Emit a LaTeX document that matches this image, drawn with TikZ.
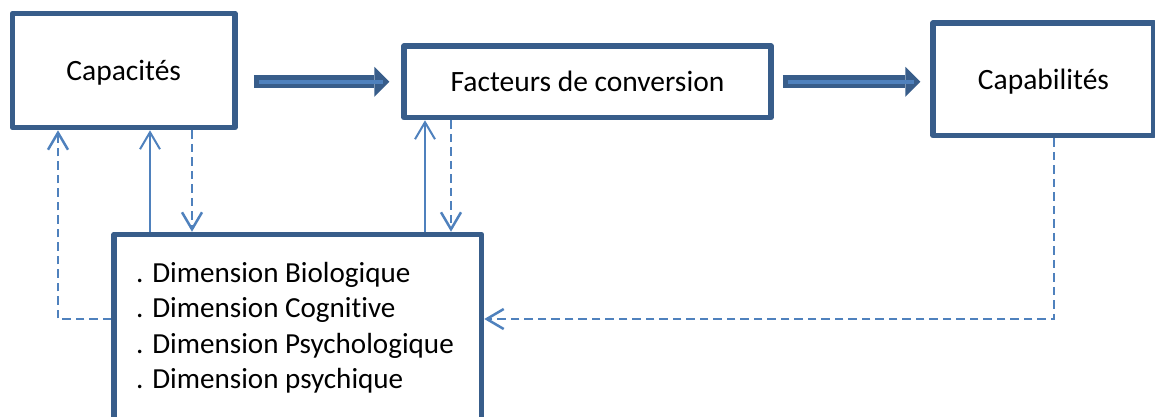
\documentclass[tikz,border=0pt]{standalone}
\usepackage{fontspec}
\setmainfont{Carlito}[Ligatures=NoCommon]
\usetikzlibrary{arrows.meta}

\definecolor{boxblue}{HTML}{385D8A}
\definecolor{lineblue}{HTML}{4F81BD}

\tikzset{
    box/.style={draw=boxblue, line width=5.5pt, line join=round, inner sep=0pt,
        text height=20pt, text depth=0pt, font=\fontsize{29.5}{35}\selectfont},
    dimline/.style={anchor=base west, inner sep=0pt, font=\fontsize{29.1}{35}\selectfont},
    bigarrow/.style={draw=boxblue, line width=13pt,
        -{Triangle[length=15pt,width=30pt,line width=0pt]}},
    bigcore/.style={draw=lineblue, line width=4pt},
    solidlink/.style={draw=lineblue, line width=2pt, -{Straight Barb[length=17pt,width=20pt]}},
    dashlink/.style={solidlink, line width=2.5pt, dash pattern=on 8.5pt off 5pt}
}

\begin{document}
\begin{tikzpicture}[x=1pt, y=-1pt]
    \clip (0,0) rectangle (1155,416);

    % the three boxes of the top row
    \node[box, minimum width=222.5pt, minimum height=114pt] (cap) at (123.75, 70.5) {Capacités};
    \node[box, minimum width=367pt, minimum height=71.5pt] (fac) at (587.5, 81.75) {Facteurs de conversion};
    \node[box, minimum width=221pt, minimum height=112.5pt] (capab) at (1043.5, 79.25) {Capabilités};

    % the box of dimensions (cut by the lower edge)
    \node[box, minimum width=367.5pt, minimum height=200pt] (dim) at (297.75, 334.5) {};
    \foreach \txt [count=\i] in {Biologique, Cognitive, Psychologique, psychique}
        \node[dimline] (dim\i) at (136, {246.5+35.5*\i}) {. Dimension \txt};

    % big arrows, dark with a light core
    \draw[bigarrow, shorten <=16pt, shorten >=12pt] (cap.east |- fac.west) -- (fac.west);
    \draw[bigcore, shorten <=21pt, shorten >=18pt] (cap.east |- fac.west) -- (fac.west);
    \draw[bigarrow, shorten <=9pt, shorten >=10pt] (fac.east) -- (fac.east -| capab.west);
    \draw[bigcore, shorten <=14pt, shorten >=16pt] (fac.east) -- (fac.east -| capab.west);

    % thin links
    \coordinate (loopL) at (58, 319);
    \coordinate (loopR) at (1054, 319);
    \draw[dashlink] (dim.west |- loopL) -| (cap.south -| loopL);
    \draw[solidlink] (dim.north -| 150,0) -- (cap.south -| 150,0);
    \draw[dashlink] (cap.south -| 192,0) -- (dim.north -| 192,0);
    \draw[solidlink] (dim.north -| 425,0) -- (fac.south -| 425,0);
    \draw[dashlink] (fac.south -| 451,0) -- (dim.north -| 451,0);
    \draw[dashlink] (capab.south -| loopR) |- (dim.east |- loopR);
\end{tikzpicture}
\end{document}
